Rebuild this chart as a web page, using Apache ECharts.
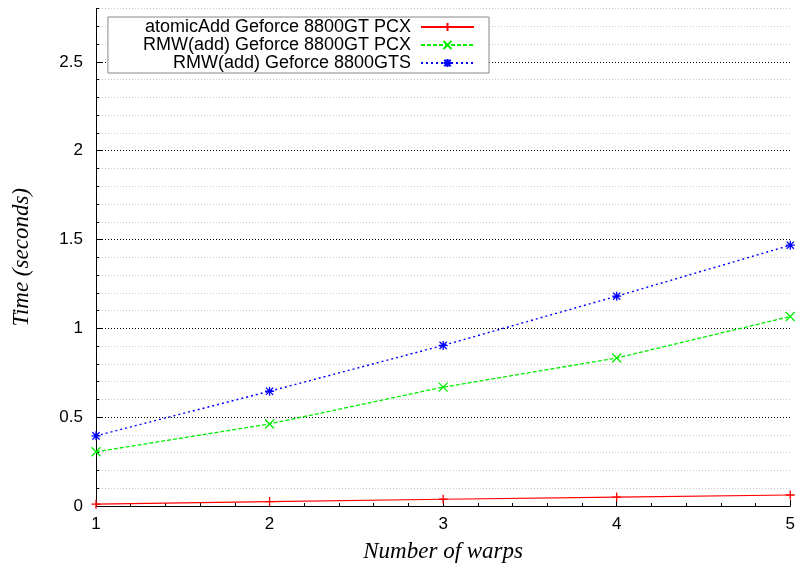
<!DOCTYPE html>
<html>
<head>
<meta charset="utf-8">
<script src="https://cdn.jsdelivr.net/npm/echarts@6/dist/echarts.min.js"></script>
<style>
  html, body { margin: 0; padding: 0; background: #fff; }
  #chart { width: 798px; height: 568px; }
</style>
</head>
<body>
<div id="chart"></div>
<script>
// number of warps
const warps = [1, 2, 3, 4, 5]
// time in seconds
const atomicAddPcx = [0.01, 0.025, 0.038, 0.05, 0.062]
const rmwAddPcx = [0.305, 0.462, 0.669, 0.833, 1.067]
const rmwAddGts = [0.395, 0.646, 0.904, 1.181, 1.468]
const yLabels = [0, 0.5, 1, 1.5, 2, 2.5]

const seriesNames = [
  'atomicAdd Geforce 8800GT PCX',
  'RMW(add) Geforce 8800GT PCX',
  'RMW(add) Geforce 8800GTS'
]

// gnuplot-ish point shapes
const plusSym = 'path://M0,-1L0,1M-1,0L1,0'
const crossSym = 'path://M-1,-1L1,1M1,-1L-1,1'
const starSym = 'path://M0,-1L0,1M-1,0L1,0M-0.8,-0.8L0.8,0.8M0.8,-0.8L-0.8,0.8'

const pairs = (ys) => warps.map((x, i) => [x, ys[i]])

const chart = echarts.init(document.getElementById('chart'))

const labelFont = { fontFamily: 'Liberation Sans', fontSize: 17, color: '#000' }
const nameFont = { fontFamily: 'Liberation Serif', fontStyle: 'italic', fontSize: 23, color: '#000' }

// major grid every 0.5 black, the rest light grey
const gridColors = ['#000', '#c8c8c8', '#c8c8c8', '#c8c8c8', '#c8c8c8']

function makeSeries(name, ys, color, sym, dash, width) {
  return {
    name: name,
    type: 'line',
    data: pairs(ys),
    symbol: sym,
    symbolSize: 9,
    showSymbol: true,
    lineStyle: { color: color, width: width, type: dash },
    itemStyle: { color: color, borderColor: color, borderWidth: 1.3 },
    emphasis: { disabled: true },
    z: 5
  }
}

chart.setOption({
  animation: false,
  backgroundColor: '#fff',
  grid: { left: 96, right: 6, top: 8.6, bottom: 61 },
  legend: {
    right: 309,
    top: 17,
    orient: 'vertical',
    align: 'right',
    itemWidth: 53,
    itemHeight: 10,
    itemGap: 0,
    padding: [1, 14, 1, 35],
    backgroundColor: '#fff',
    borderColor: '#888',
    borderWidth: 1,
    borderRadius: 0,
    textStyle: { fontFamily: 'Liberation Sans', fontSize: 18, lineHeight: 16, color: '#000', padding: [0, 5, 0, 0] },
    data: seriesNames
  },
  xAxis: {
    type: 'value',
    min: 1,
    max: 5,
    interval: 1,
    name: 'Number of warps',
    nameLocation: 'middle',
    nameGap: 34,
    nameTextStyle: nameFont,
    axisLine: { lineStyle: { color: '#000', width: 1 } },
    axisTick: { inside: true, length: 6, lineStyle: { color: '#000' } },
    minorTick: { show: true, splitNumber: 5, length: 3, lineStyle: { color: '#000' } },
    axisLabel: Object.assign({ margin: 10 }, labelFont),
    splitLine: { show: false }
  },
  yAxis: [
    {
      type: 'value',
      min: 0,
      max: 2.8,
      interval: 0.1,
      name: 'Time (seconds)',
      nameLocation: 'middle',
      nameGap: 63,
      nameTextStyle: nameFont,
      axisLine: { show: true, lineStyle: { color: '#000', width: 1 } },
      axisTick: { inside: true, length: 6, customValues: yLabels, lineStyle: { color: '#000' } },
      axisLabel: Object.assign({
        margin: 13,
        customValues: yLabels,
        formatter: (v) => String(Math.round(v * 10) / 10)
      }, labelFont),
      splitLine: { show: false },
      z: 3
    },
    {
      // minor ticks and grid every 0.1
      type: 'value',
      position: 'left',
      min: 0,
      max: 2.8,
      interval: 0.1,
      axisLine: { show: false },
      axisTick: { show: true, inside: true, length: 3, lineStyle: { color: '#000' } },
      axisLabel: { show: false },
      splitLine: { show: true, lineStyle: { color: gridColors, width: 1, type: [1, 2] } },
      z: 2
    }
  ],
  series: [
    makeSeries(seriesNames[0], atomicAddPcx, '#ff0000', plusSym, 'solid', 1.2),
    makeSeries(seriesNames[1], rmwAddPcx, '#00ee00', crossSym, [4, 2], 1.3),
    makeSeries(seriesNames[2], rmwAddGts, '#0000ff', starSym, [2, 3], 1.4)
  ]
})
</script>
</body>
</html>
